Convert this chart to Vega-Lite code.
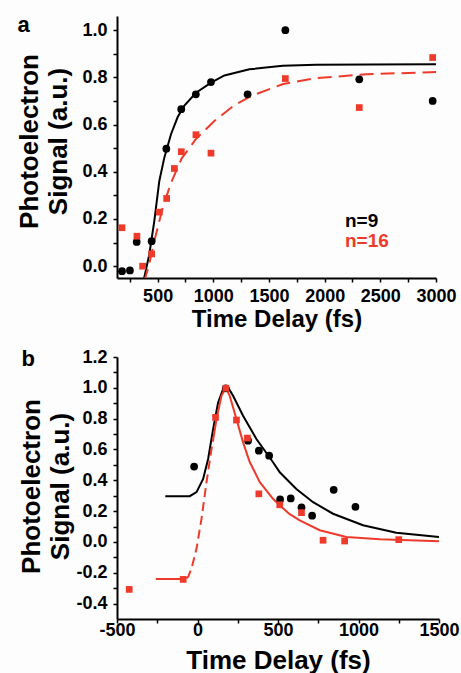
{
  "$schema": "https://vega.github.io/schema/vega-lite/v6.json",
  "background": "#fdfdfe",
  "padding": {"left": 16, "top": 13, "right": 10, "bottom": 5},
  "spacing": 16,
  "config": {
    "font": "Liberation Sans",
    "view": {"stroke": null},
    "axis": {
      "grid": false,
      "domainColor": "#000000",
      "domainWidth": 2,
      "tickColor": "#000000",
      "tickWidth": 1.5,
      "tickSize": 4,
      "labelFont": "Liberation Sans",
      "labelFontWeight": "bold",
      "labelFontSize": 18,
      "labelColor": "#000000",
      "labelOverlap": false,
      "labelFlush": false,
      "labelBound": false,
      "titleFont": "Liberation Sans",
      "titleFontWeight": "bold",
      "titleColor": "#000000"
    }
  },
  "datasets": {
    "a_points": [
      {"t": 180, "s": -0.021, "series": "n=9"},
      {"t": 251, "s": -0.018, "series": "n=9"},
      {"t": 312, "s": 0.103, "series": "n=9"},
      {"t": 446, "s": 0.106, "series": "n=9"},
      {"t": 578, "s": 0.498, "series": "n=9"},
      {"t": 712, "s": 0.665, "series": "n=9"},
      {"t": 843, "s": 0.728, "series": "n=9"},
      {"t": 979, "s": 0.780, "series": "n=9"},
      {"t": 1308, "s": 0.728, "series": "n=9"},
      {"t": 1647, "s": 1.0, "series": "n=9"},
      {"t": 2311, "s": 0.792, "series": "n=9"},
      {"t": 2970, "s": 0.700, "series": "n=9"},
      {"t": 180, "s": 0.163, "series": "n=16"},
      {"t": 314, "s": 0.127, "series": "n=16"},
      {"t": 365, "s": 0.0, "series": "n=16"},
      {"t": 446, "s": 0.052, "series": "n=16"},
      {"t": 515, "s": 0.229, "series": "n=16"},
      {"t": 581, "s": 0.287, "series": "n=16"},
      {"t": 650, "s": 0.414, "series": "n=16"},
      {"t": 713, "s": 0.485, "series": "n=16"},
      {"t": 844, "s": 0.557, "series": "n=16"},
      {"t": 979, "s": 0.479, "series": "n=16"},
      {"t": 1647, "s": 0.795, "series": "n=16"},
      {"t": 2311, "s": 0.672, "series": "n=16"},
      {"t": 2970, "s": 0.884, "series": "n=16"}
    ],
    "a_fit": [
      {"t": 370, "s": -0.07, "series": "n=9"},
      {"t": 425, "s": 0.05, "series": "n=9"},
      {"t": 470, "s": 0.191, "series": "n=9"},
      {"t": 515, "s": 0.361, "series": "n=9"},
      {"t": 560, "s": 0.460, "series": "n=9"},
      {"t": 620, "s": 0.559, "series": "n=9"},
      {"t": 680, "s": 0.632, "series": "n=9"},
      {"t": 740, "s": 0.680, "series": "n=9"},
      {"t": 845, "s": 0.735, "series": "n=9"},
      {"t": 980, "s": 0.778, "series": "n=9"},
      {"t": 1100, "s": 0.808, "series": "n=9"},
      {"t": 1324, "s": 0.834, "series": "n=9"},
      {"t": 1623, "s": 0.849, "series": "n=9"},
      {"t": 1923, "s": 0.853, "series": "n=9"},
      {"t": 2400, "s": 0.855, "series": "n=9"},
      {"t": 3000, "s": 0.856, "series": "n=9"},
      {"t": 376, "s": -0.07, "series": "n=16"},
      {"t": 420, "s": 0.0, "series": "n=16"},
      {"t": 477, "s": 0.120, "series": "n=16"},
      {"t": 545, "s": 0.247, "series": "n=16"},
      {"t": 620, "s": 0.353, "series": "n=16"},
      {"t": 716, "s": 0.457, "series": "n=16"},
      {"t": 850, "s": 0.542, "series": "n=16"},
      {"t": 1009, "s": 0.615, "series": "n=16"},
      {"t": 1180, "s": 0.679, "series": "n=16"},
      {"t": 1339, "s": 0.721, "series": "n=16"},
      {"t": 1628, "s": 0.772, "series": "n=16"},
      {"t": 1928, "s": 0.797, "series": "n=16"},
      {"t": 2377, "s": 0.813, "series": "n=16"},
      {"t": 2946, "s": 0.822, "series": "n=16"},
      {"t": 3000, "s": 0.823, "series": "n=16"}
    ],
    "b_points": [
      {"t": -21, "s": 0.489, "series": "black"},
      {"t": 176, "s": 0.997, "series": "black"},
      {"t": 314, "s": 0.657, "series": "black"},
      {"t": 381, "s": 0.592, "series": "black"},
      {"t": 445, "s": 0.560, "series": "black"},
      {"t": 513, "s": 0.276, "series": "black"},
      {"t": 579, "s": 0.282, "series": "black"},
      {"t": 646, "s": 0.224, "series": "black"},
      {"t": 712, "s": 0.170, "series": "black"},
      {"t": 846, "s": 0.338, "series": "black"},
      {"t": 981, "s": 0.228, "series": "black"},
      {"t": -424, "s": -0.308, "series": "red"},
      {"t": -89, "s": -0.243, "series": "red"},
      {"t": 112, "s": 0.808, "series": "red"},
      {"t": 176, "s": 0.997, "series": "red"},
      {"t": 242, "s": 0.791, "series": "red"},
      {"t": 310, "s": 0.674, "series": "red"},
      {"t": 381, "s": 0.312, "series": "red"},
      {"t": 511, "s": 0.241, "series": "red"},
      {"t": 646, "s": 0.190, "series": "red"},
      {"t": 780, "s": 0.011, "series": "red"},
      {"t": 914, "s": 0.006, "series": "red"},
      {"t": 1250, "s": 0.015, "series": "red"}
    ],
    "b_fit": [
      {"t": -200, "s": 0.297, "curve": "black", "seg": "k"},
      {"t": -48, "s": 0.297, "curve": "black", "seg": "k"},
      {"t": -6, "s": 0.323, "curve": "black", "seg": "k"},
      {"t": 35, "s": 0.409, "curve": "black", "seg": "k"},
      {"t": 66, "s": 0.538, "curve": "black", "seg": "k"},
      {"t": 97, "s": 0.732, "curve": "black", "seg": "k"},
      {"t": 128, "s": 0.905, "curve": "black", "seg": "k"},
      {"t": 159, "s": 0.991, "curve": "black", "seg": "k"},
      {"t": 178, "s": 1.008, "curve": "black", "seg": "k"},
      {"t": 200, "s": 0.985, "curve": "black", "seg": "k"},
      {"t": 221, "s": 0.948, "curve": "black", "seg": "k"},
      {"t": 283, "s": 0.819, "curve": "black", "seg": "k"},
      {"t": 366, "s": 0.668, "curve": "black", "seg": "k"},
      {"t": 469, "s": 0.517, "curve": "black", "seg": "k"},
      {"t": 511, "s": 0.452, "curve": "black", "seg": "k"},
      {"t": 614, "s": 0.344, "curve": "black", "seg": "k"},
      {"t": 718, "s": 0.258, "curve": "black", "seg": "k"},
      {"t": 842, "s": 0.183, "curve": "black", "seg": "k"},
      {"t": 1028, "s": 0.108, "curve": "black", "seg": "k"},
      {"t": 1235, "s": 0.060, "curve": "black", "seg": "k"},
      {"t": 1500, "s": 0.032, "curve": "black", "seg": "k"},
      {"t": -259, "s": -0.241, "curve": "red", "seg": "r1"},
      {"t": -89, "s": -0.241, "curve": "red", "seg": "r1"},
      {"t": -70, "s": -0.236, "curve": "red", "seg": "r1"},
      {"t": -70, "s": -0.236, "curve": "red", "seg": "dash"},
      {"t": -58, "s": -0.226, "curve": "red", "seg": "dash"},
      {"t": -37, "s": -0.172, "curve": "red", "seg": "dash"},
      {"t": -6, "s": -0.043, "curve": "red", "seg": "dash"},
      {"t": 25, "s": 0.151, "curve": "red", "seg": "dash"},
      {"t": 56, "s": 0.388, "curve": "red", "seg": "dash"},
      {"t": 87, "s": 0.603, "curve": "red", "seg": "dash"},
      {"t": 100, "s": 0.68, "curve": "red", "seg": "dash"},
      {"t": 100, "s": 0.68, "curve": "red", "seg": "r2"},
      {"t": 118, "s": 0.797, "curve": "red", "seg": "r2"},
      {"t": 149, "s": 0.948, "curve": "red", "seg": "r2"},
      {"t": 176, "s": 1.0, "curve": "red", "seg": "r2"},
      {"t": 200, "s": 0.948, "curve": "red", "seg": "r2"},
      {"t": 242, "s": 0.797, "curve": "red", "seg": "r2"},
      {"t": 283, "s": 0.646, "curve": "red", "seg": "r2"},
      {"t": 325, "s": 0.517, "curve": "red", "seg": "r2"},
      {"t": 387, "s": 0.388, "curve": "red", "seg": "r2"},
      {"t": 469, "s": 0.280, "curve": "red", "seg": "r2"},
      {"t": 511, "s": 0.237, "curve": "red", "seg": "r2"},
      {"t": 573, "s": 0.180, "curve": "red", "seg": "r2"},
      {"t": 635, "s": 0.140, "curve": "red", "seg": "r2"},
      {"t": 759, "s": 0.076, "curve": "red", "seg": "r2"},
      {"t": 925, "s": 0.032, "curve": "red", "seg": "r2"},
      {"t": 1132, "s": 0.017, "curve": "red", "seg": "r2"},
      {"t": 1500, "s": 0.005, "curve": "red", "seg": "r2"}
    ]
  },
  "vconcat": [
    {
      "width": 319,
      "height": 262,
      "resolve": {"axis": {"x": "independent"}},
      "layer": [
        {
          "encoding": {
            "x": {
              "field": "t", "type": "quantitative",
              "scale": {"domain": [135, 3000], "nice": false, "zero": false},
              "axis": {
                "title": "Time Delay (fs)", "titleFontSize": 24, "titlePadding": 2,
                "values": [250, 500, 750, 1000, 1250, 1500, 1750, 2000, 2250, 2500, 2750, 3000],
                "labelExpr": "datum.value % 500 == 0 ? format(datum.value, 'd') : ''",
                "labelPadding": 5
              }
            },
            "y": {
              "field": "s", "type": "quantitative",
              "scale": {"domain": [-0.05, 1.06], "nice": false, "zero": false},
              "axis": {
                "title": ["Photoelectron", "Signal (a.u.)"], "titleFontSize": 26, "titleLineHeight": 29,
                "titleBaseline": "alphabetic", "titleX": -80, "titleY": 125, "titleAngle": 270,
                "values": [0, 0.1, 0.2, 0.3, 0.4, 0.5, 0.6, 0.7, 0.8, 0.9, 1.0],
                "labelExpr": "round(datum.value * 10) % 2 == 0 ? format(datum.value, '.1f') : ''",
                "labelPadding": 6
              }
            }
          },
          "layer": [
            {
              "data": {"name": "a_fit"},
              "transform": [{"filter": "datum.series == 'n=9'"}],
              "mark": {"type": "line", "clip": true, "strokeWidth": 2, "color": "#000000"}
            },
            {
              "data": {"name": "a_fit"},
              "transform": [{"filter": "datum.series == 'n=16'"}],
              "mark": {"type": "line", "clip": true, "strokeWidth": 2, "color": "#ee3a2a", "strokeDash": [14, 7]}
            },
            {
              "data": {"name": "a_points"},
              "mark": {"type": "point", "filled": true, "opacity": 1},
              "encoding": {
                "color": {
                  "field": "series", "type": "nominal",
                  "scale": {"domain": ["n=9", "n=16"], "range": ["#000000", "#ee3a2a"]},
                  "legend": {
                    "orient": "none", "legendX": 209, "legendY": 195, "title": null,
                    "symbolSize": 0, "symbolOpacity": 0, "symbolStrokeWidth": 0,
                    "labelFontSize": 19, "labelFontWeight": "bold", "labelFont": "Liberation Sans",
                    "labelOffset": 0, "padding": 0, "rowPadding": 0,
                    "encode": {"labels": {"update": {"fill": {"signal": "datum.label === 'n=9' ? '#000000' : '#ee3a2a'"}}}}
                  }
                },
                "shape": {"field": "series", "type": "nominal", "scale": {"domain": ["n=9", "n=16"], "range": ["circle", "square"]}, "legend": null},
                "size": {"field": "series", "type": "nominal", "scale": {"domain": ["n=9", "n=16"], "range": [60, 45]}, "legend": null}
              }
            }
          ]
        },
        {
          "data": {"name": "a_points"},
          "mark": {"type": "point", "opacity": 0},
          "encoding": {
            "x": {
              "field": "t", "type": "quantitative",
              "scale": {"domain": [135, 3000], "nice": false, "zero": false},
              "axis": {
                "orient": "top", "title": "a", "titleFontSize": 22, "titleAngle": 0,
                "titleAlign": "left", "titleBaseline": "alphabetic", "titleX": -100, "titleY": 15,
                "domain": false, "ticks": false, "labels": false, "minExtent": 0, "maxExtent": 0
              }
            }
          }
        }
      ]
    },
    {
      "width": 322,
      "height": 262,
      "resolve": {"axis": {"x": "independent"}},
      "layer": [
        {
          "encoding": {
            "x": {
              "field": "t", "type": "quantitative",
              "scale": {"domain": [-500, 1500], "nice": false, "zero": false},
              "axis": {
                "title": "Time Delay (fs)", "titleFontSize": 26, "titlePadding": 8,
                "values": [-500, -250, 0, 250, 500, 750, 1000, 1250, 1500],
                "labelExpr": "datum.value % 500 == 0 ? (datum.value < 0 ? '-' : '') + format(abs(datum.value), 'd') : ''",
                "labelPadding": -2
              }
            },
            "y": {
              "field": "s", "type": "quantitative",
              "scale": {"domain": [-0.5, 1.2], "nice": false, "zero": false},
              "axis": {
                "title": ["Photoelectron", "Signal (a.u.)"], "titleFontSize": 26, "titleLineHeight": 29,
                "titleBaseline": "alphabetic", "titleX": -78, "titleY": 129, "titleAngle": 270,
                "values": [-0.4, -0.3, -0.2, -0.1, 0, 0.1, 0.2, 0.3, 0.4, 0.5, 0.6, 0.7, 0.8, 0.9, 1.0, 1.1, 1.2],
                "labelExpr": "round(datum.value * 10) % 2 == 0 ? (datum.value < -0.001 ? '-' : '') + format(abs(datum.value), '.1f') : ''",
                "labelPadding": 6
              }
            }
          },
          "layer": [
            {
              "data": {"name": "b_fit"},
              "transform": [{"filter": "datum.curve == 'black'"}],
              "mark": {"type": "line", "color": "#000000", "strokeWidth": 2}
            },
            {
              "data": {"name": "b_fit"},
              "transform": [{"filter": "datum.curve == 'red' && datum.seg != 'dash'"}],
              "mark": {"type": "line", "color": "#ee3a2a", "strokeWidth": 2},
              "encoding": {"detail": {"field": "seg", "type": "nominal"}}
            },
            {
              "data": {"name": "b_fit"},
              "transform": [{"filter": "datum.seg == 'dash'"}],
              "mark": {"type": "line", "color": "#ee3a2a", "strokeWidth": 2, "strokeDash": [9, 5]}
            },
            {
              "data": {"name": "b_points"},
              "transform": [{"filter": "datum.series == 'black'"}],
              "mark": {"type": "point", "shape": "circle", "filled": true, "opacity": 1, "color": "#000000", "size": 60}
            },
            {
              "data": {"name": "b_points"},
              "transform": [{"filter": "datum.series == 'red'"}],
              "mark": {"type": "point", "shape": "square", "filled": true, "opacity": 1, "color": "#ee3a2a", "size": 45}
            }
          ]
        },
        {
          "data": {"name": "b_points"},
          "mark": {"type": "point", "opacity": 0},
          "encoding": {
            "x": {
              "field": "t", "type": "quantitative",
              "scale": {"domain": [-500, 1500], "nice": false, "zero": false},
              "axis": {
                "orient": "top", "title": "b", "titleFontSize": 22, "titleAngle": 0,
                "titleAlign": "left", "titleBaseline": "alphabetic", "titleX": -96, "titleY": 8,
                "domain": false, "ticks": false, "labels": false, "minExtent": 0, "maxExtent": 0
              }
            }
          }
        }
      ]
    }
  ]
}
